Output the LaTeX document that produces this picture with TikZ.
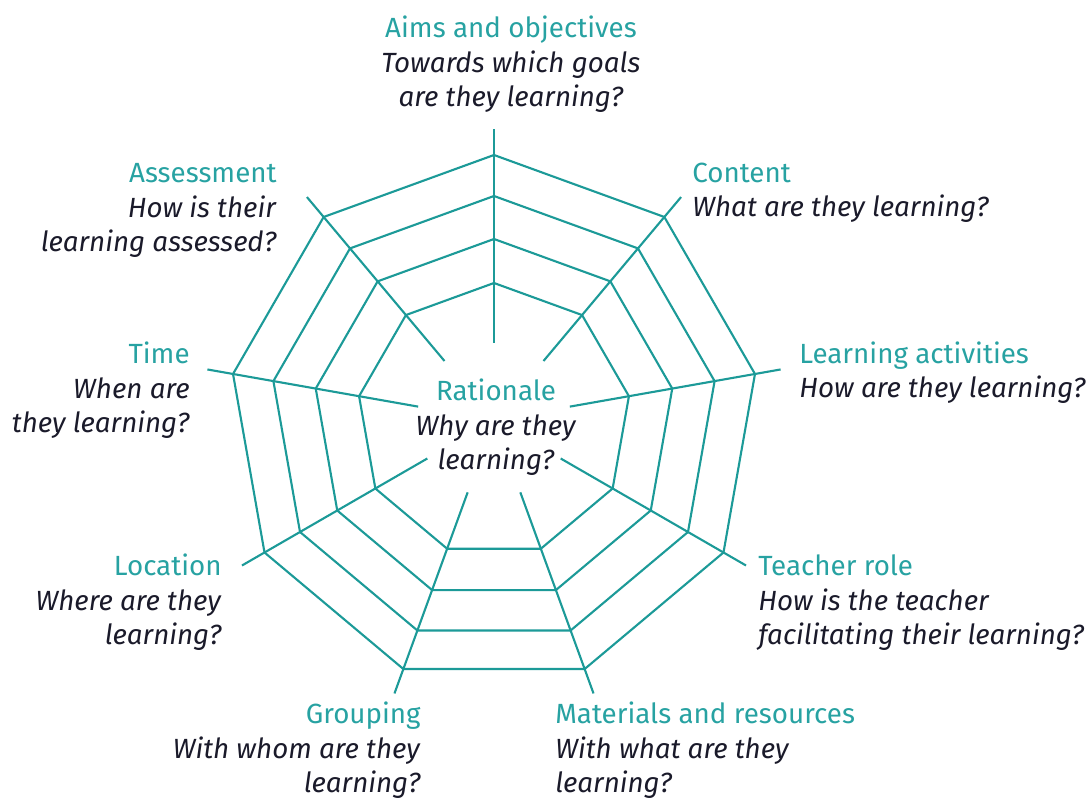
\documentclass[tikz,border=0pt]{standalone}
\usepackage{fontspec}
\setmainfont{Fira Sans}
\usetikzlibrary{positioning}
\definecolor{WebTeal}{HTML}{1C9A98}
\definecolor{WebTitle}{HTML}{27A2A2}
\definecolor{WebInk}{HTML}{1A1A2A}
\tikzset{
  every node/.style={font=\fontsize{15.8pt}{19.9pt}\selectfont, text=WebInk, inner sep=0pt},
  web/.style={draw=WebTeal, line width=1.2pt},
  lblL/.style={align=left, anchor=base west},
  lblR/.style={align=right, anchor=base east},
  lblC/.style={align=center, anchor=base},
}
\newcommand{\webtitle}[1]{\textcolor{WebTitle}{#1}}

\begin{document}
\begin{tikzpicture}[x=0.02cm,y=0.02cm]
  \useasboundingbox (0,0) rectangle (1090,798);
  % web: centre at (494,378), nine spokes, four rings
  \begin{scope}[shift={(494,378)}]
    \foreach \r in {137,181,224,265}{
      \draw[web] (90:\r) \foreach \a in {130,170,...,410}{ -- (\a:\r)} -- cycle;
    }
    \foreach \a in {90,130,...,410}{
      \draw[web] (\a:77) -- (\a:291);
    }
  \end{scope}
  % labels (placed at the baseline of their last line)
  \node[lblC] (rationale) at (496,328) {\webtitle{Rationale}\\\textit{Why are they}\\\textit{learning?}};
  \node[lblC] (aims) at (511,691) {\webtitle{Aims and objectives}\\\textit{Towards which goals}\\\textit{are they learning?}};
  \node[lblL] (content) at (692,581) {\webtitle{Content}\\\textit{What are they learning?}};
  \node[lblL] (activities) at (799,400) {\webtitle{Learning activities}\\\textit{How are they learning?}};
  \node[lblL] (teacher) at (758,153) {\webtitle{Teacher role}\\\textit{How is the teacher}\\\textit{facilitating their learning?}};
  \node[lblL] (materials) at (555,5) {\webtitle{Materials and resources}\\\textit{With what are they}\\\textit{learning?}};
  \node[lblR] (grouping) at (421,5) {\webtitle{Grouping}\\\textit{With whom are they}\\\textit{learning?}};
  \node[lblR] (location) at (222,153) {\webtitle{Location}\\\textit{Where are they}\\\textit{learning?}};
  \node[lblR] (time) at (190,365) {\webtitle{Time}\\\textit{When are}\\\textit{they learning?}};
  \node[lblR] (assessment) at (277,546) {\webtitle{Assessment}\\\textit{How is their}\\\textit{learning assessed?}};
\end{tikzpicture}
\end{document}
